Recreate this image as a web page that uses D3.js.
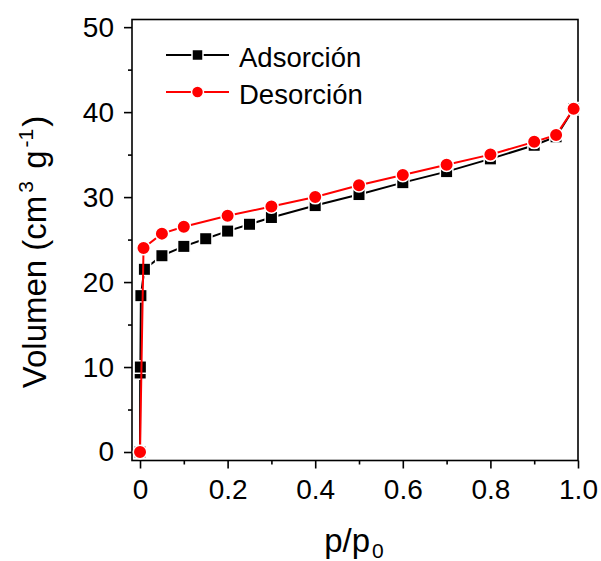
<!DOCTYPE html>
<html>
<head>
<meta charset="utf-8">
<script src="https://cdn.jsdelivr.net/npm/d3@7"></script>
<style>
  html, body { margin: 0; padding: 0; background: #fff; }
  svg { display: block; font-family: Arial, "Liberation Sans", sans-serif; }
</style>
</head>
<body>
<svg id="chart" width="601" height="561"></svg>
<script>
// Relative pressure (p/p0) and adsorbed volume (cm3 g-1)
const adsP = [0, 0.0004, 0.0008, 0.002, 0.01, 0.05, 0.1, 0.15, 0.2, 0.25, 0.3, 0.4, 0.5, 0.6, 0.7, 0.8, 0.9, 0.95, 0.99];
const adsV = [0, 9.3, 10.0, 18.4, 21.5, 23.1, 24.2, 25.1, 26.0, 26.8, 27.6, 29.0, 30.3, 31.7, 33.0, 34.5, 36.1, 37.1, 40.4];
const desP = [0.99, 0.95, 0.9, 0.8, 0.7, 0.6, 0.5, 0.4, 0.3, 0.2, 0.1, 0.05, 0.008, 0];
const desV = [40.4, 37.3, 36.5, 35.0, 33.8, 32.6, 31.4, 30.0, 28.9, 27.8, 26.5, 25.7, 24.0, 0];

const xTicks = [0, 0.2, 0.4, 0.6, 0.8, 1.0];
const xTickLabels = ["0", "0.2", "0.4", "0.6", "0.8", "1.0"];
const xMinor = [0.1, 0.3, 0.5, 0.7, 0.9];
const yTicks = [0, 10, 20, 30, 40, 50];
const yMinor = [5, 15, 25, 35, 45];
const seriesNames = ["Adsorción", "Desorción"];
const seriesColors = ["#000000", "#ff0000"];

(function () {
const svg = d3.select("#chart");
const pLeft = 132, pRight = 578, pTop = 19.5, pBottom = 460.5;
const font = "Arial, 'Liberation Sans', sans-serif";

const x = d3.scaleLinear().domain([-0.0183, 1.0]).range([pLeft, pRight]);
const y = d3.scaleLinear().domain([-1.0, 50.9]).range([pBottom, pTop]);

const g = svg.append("g");

// frame
g.append("rect")
  .attr("x", pLeft).attr("y", pTop)
  .attr("width", pRight - pLeft).attr("height", pBottom - pTop)
  .attr("fill", "none").attr("stroke", "#000").attr("stroke-width", 1.6);

// bottom axis
const xAxis = g.append("g").attr("transform", `translate(0,${pBottom})`)
  .call(d3.axisBottom(x).tickValues(xTicks).tickSize(8).tickPadding(11)
    .tickFormat((d, i) => xTickLabels[i]));
xAxis.select(".domain").remove();
xAxis.selectAll("line").attr("stroke-width", 1.6);
xAxis.selectAll("text").attr("font-size", 28).attr("fill", "#000").attr("font-family", font);
const xAxisMinor = g.append("g").attr("transform", `translate(0,${pBottom})`)
  .call(d3.axisBottom(x).tickValues(xMinor).tickSize(4).tickFormat(""));
xAxisMinor.select(".domain").remove();
xAxisMinor.selectAll("line").attr("stroke-width", 1.6);

// left axis
const yAxis = g.append("g").attr("transform", `translate(${pLeft},0)`)
  .call(d3.axisLeft(y).tickValues(yTicks).tickSize(8).tickPadding(10));
yAxis.select(".domain").remove();
yAxis.selectAll("line").attr("stroke-width", 1.6);
yAxis.selectAll("text").attr("font-size", 28).attr("fill", "#000").attr("font-family", font);
const yAxisMinor = g.append("g").attr("transform", `translate(${pLeft},0)`)
  .call(d3.axisLeft(y).tickValues(yMinor).tickSize(4).tickFormat(""));
yAxisMinor.select(".domain").remove();
yAxisMinor.selectAll("line").attr("stroke-width", 1.6);

// series
const adsData = adsP.map((p, i) => ({ p, v: adsV[i] }));
const desData = desP.map((p, i) => ({ p, v: desV[i] }));
const line = d3.line().x(d => x(d.p)).y(d => y(d.v));

g.append("path").datum(adsData).attr("d", line)
  .attr("fill", "none").attr("stroke", seriesColors[0]).attr("stroke-width", 2);
g.selectAll("rect.ads").data(adsData).enter().append("rect")
  .attr("class", "ads")
  .attr("x", d => x(d.p) - 6.25).attr("y", d => y(d.v) - 6.25)
  .attr("width", 12.5).attr("height", 12.5)
  .attr("fill", seriesColors[0]).attr("stroke", "#fff").attr("stroke-width", 1.5);

g.append("path").datum(desData).attr("d", line)
  .attr("fill", "none").attr("stroke", seriesColors[1]).attr("stroke-width", 2);
g.selectAll("circle.des").data(desData).enter().append("circle")
  .attr("class", "des")
  .attr("cx", d => x(d.p)).attr("cy", d => y(d.v)).attr("r", 6.75)
  .attr("fill", seriesColors[1]).attr("stroke", "#fff").attr("stroke-width", 1.5);

// legend
const legend = g.append("g");
const legendRows = [55, 92];
legendRows.forEach((ly, i) => {
  legend.append("line").attr("x1", 166).attr("x2", 229).attr("y1", ly).attr("y2", ly)
    .attr("stroke", seriesColors[i]).attr("stroke-width", 2);
  if (i === 0) {
    legend.append("rect").attr("x", 197.5 - 5.5).attr("y", ly - 5.5).attr("width", 11).attr("height", 11)
      .attr("fill", seriesColors[i]).attr("stroke", "#fff").attr("stroke-width", 1.5);
  } else {
    legend.append("circle").attr("cx", 197.5).attr("cy", ly).attr("r", 6)
      .attr("fill", seriesColors[i]).attr("stroke", "#fff").attr("stroke-width", 1.5);
  }
  legend.append("text").attr("x", 239).attr("y", ly + 11.5)
    .attr("font-size", 27.5).attr("fill", "#000").attr("font-family", font).text(seriesNames[i]);
});

// axis titles
const xt = svg.append("text").attr("x", 354).attr("y", 552)
  .attr("text-anchor", "middle").attr("font-size", 33).attr("fill", "#000").attr("font-family", font);
xt.append("tspan").text("p/p");
xt.append("tspan").attr("font-size", 21).attr("dx", 2).attr("dy", 6).text("0");

const yt = svg.append("text")
  .attr("transform", "translate(46,252) rotate(-90)")
  .attr("text-anchor", "middle").attr("font-size", 33).attr("fill", "#000").attr("font-family", font);
yt.append("tspan").text("Volumen (cm");
yt.append("tspan").attr("font-size", 21).attr("dx", 3).attr("dy", -13).text("3");
yt.append("tspan").attr("dx", 3).attr("dy", 13).text(" g");
yt.append("tspan").attr("font-size", 21).attr("dx", 3).attr("dy", -13).text("-1");
yt.append("tspan").attr("dx", 2).attr("dy", 13).text(")");
})();
</script>
</body>
</html>
